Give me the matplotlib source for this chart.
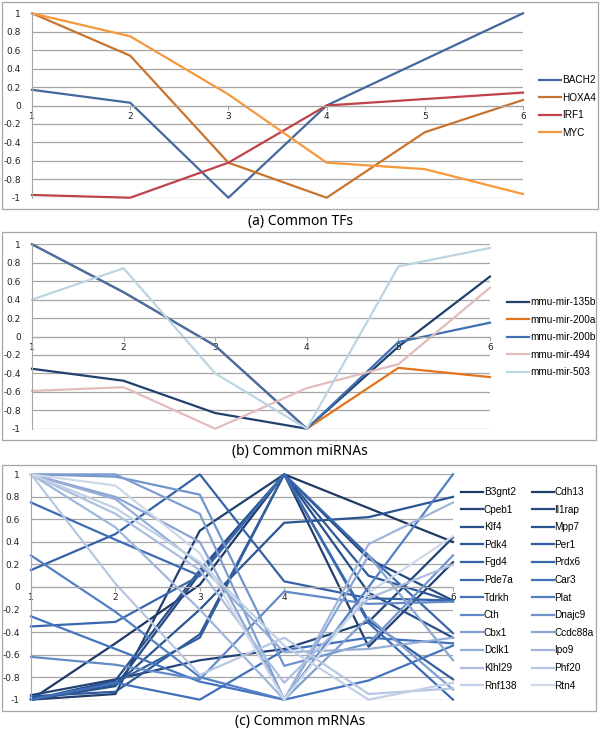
import matplotlib
matplotlib.use("Agg")
import matplotlib.pyplot as plt
from matplotlib.patches import Rectangle
import numpy as np

# x positions shared by all three panels
steps = [1, 2, 3, 4, 5, 6]

# (a) Common TFs
tf_names = ["BACH2", "HOXA4", "IRF1", "MYC"]
BACH2 = [0.17, 0.03, -1.0, 0.0, 0.5, 1.0]
HOXA4 = [1.0, 0.54, -0.62, -1.0, -0.29, 0.06]
IRF1 = [-0.97, -1.0, -0.62, 0.0, 0.07, 0.14]
MYC = [1.0, 0.75, 0.12, -0.62, -0.69, -0.96]
tf_colors = ["#44689e", "#c8742e", "#c0424a", "#f5993c"]

# (b) Common miRNAs
mir_names = ["mmu-mir-135b", "mmu-mir-200a", "mmu-mir-200b", "mmu-mir-494", "mmu-mir-503"]
mir_135b = [-0.35, -0.48, -0.83, -1.0, -0.11, 0.65]
mir_200a = [1.0, 0.48, -0.1, -1.0, -0.34, -0.44]
mir_200b = [1.0, 0.48, -0.1, -1.0, -0.06, 0.15]
mir_494 = [-0.59, -0.55, -1.0, -0.56, -0.3, 0.53]
mir_503 = [0.4, 0.74, -0.4, -1.0, 0.76, 0.96]
mir_colors = ["#20406e", "#e5731c", "#3f70b0", "#e3bcbc", "#bcd5e2"]

# (c) Common mRNAs (legend is row-major, two columns)
mrna_names = ["B3gnt2", "Cdh13", "Cpeb1", "Il1rap", "Klf4", "Mpp7",
              "Pdk4", "Per1", "Fgd4", "Prdx6", "Pde7a", "Car3",
              "Tdrkh", "Plat", "Cth", "Dnajc9", "Cbx1", "Ccdc88a",
              "Dclk1", "Ipo9", "Klhl29", "Phf20", "Rnf138", "Rtn4"]
mrna_values = [
    [-1.0, -0.5, 0.02, 1.0, 0.7, 0.4],
    [-1.0, -0.95, 0.5, 1.0, -0.53, 0.22],
    [-0.96, -0.82, -0.65, -0.55, -0.31, 0.44],
    [-1.0, -0.88, 0.12, 1.0, 0.25, -0.12],
    [-1.0, -0.83, 0.15, 1.0, -0.05, -0.45],
    [-1.0, -0.87, -0.2, 0.57, 0.62, 0.8],
    [-0.97, -0.93, -0.42, 1.0, 0.1, -0.13],
    [-1.0, -0.85, -0.45, 1.0, -0.3, -0.82],
    [0.15, 0.47, 1.0, 0.05, -0.1, -0.12],
    [-0.35, -0.31, 0.1, 1.0, 0.28, -0.41],
    [0.75, 0.42, 0.1, 1.0, -0.32, -1.0],
    [-1.0, -0.85, -1.0, -0.56, -0.45, -0.5],
    [-0.26, -0.55, -0.84, -1.0, -0.83, -0.52],
    [0.28, -0.22, -0.8, -1.0, 0.0, 1.0],
    [-0.62, -0.69, -0.82, -0.04, -0.15, -0.13],
    [1.0, 0.98, 0.82, -0.7, -0.5, 0.28],
    [1.0, 1.0, 0.65, -1.0, -0.27, -0.91],
    [1.0, 0.8, 0.4, -1.0, 0.28, -0.65],
    [1.0, 0.78, 0.2, -0.58, -0.55, -0.45],
    [1.0, 0.53, -0.2, -1.0, 0.38, 0.75],
    [1.0, 0.65, 0.15, -0.85, -0.1, 0.2],
    [1.0, 0.03, -0.78, -0.45, -0.95, -0.9],
    [1.0, 0.7, 0.22, -0.52, -1.0, -0.85],
    [1.0, 0.9, 0.3, -1.0, -0.05, 0.45],
]
# colour ramp anchors for the mRNA series (index in series order -> colour)
ramp_pos = [0, 5, 12, 16, 23]
ramp_hex = ["#1f3864", "#2a5592", "#4474c0", "#7f9ed0", "#cdd8ea"]

yticks = [-1, -0.8, -0.6, -0.4, -0.2, 0, 0.2, 0.4, 0.6, 0.8, 1]
ytick_labels = ["-1", "-0.8", "-0.6", "-0.4", "-0.2", "0", "0.2", "0.4", "0.6", "0.8", "1"]

W, H = 600, 736
fig = plt.figure(figsize=(W / 100, H / 100), dpi=100)
plt.rcParams['font.family'] = ['DejaVu Sans']


def px_axes(x0, y0, x1, y1):
    # pixel box (top-left origin) -> figure axes
    return fig.add_axes([x0 / W, 1 - y1 / H, (x1 - x0) / W, (y1 - y0) / H])


def border(x0, y0, x1, y1):
    fig.patches.append(Rectangle((x0 / W, 1 - y1 / H), (x1 - x0) / W, (y1 - y0) / H,
                                 transform=fig.transFigure, fill=False,
                                 edgecolor="#a6a6a6", linewidth=0.9))


def style(ax):
    ax.set_xlim(1, 6)
    ax.set_ylim(-1.003, 1.003)
    ax.set_yticks(yticks)
    ax.set_yticklabels(ytick_labels)
    ax.set_xticks(steps)
    ax.set_xticklabels([str(s) for s in steps])
    ax.grid(axis="y", color="#a6a6a6", linewidth=0.9)
    ax.set_axisbelow(True)
    for s in ["top", "right"]:
        ax.spines[s].set_visible(False)
    ax.spines["bottom"].set_position(("data", 0))
    ax.spines["bottom"].set_color("#a6a6a6")
    ax.spines["left"].set_color("#a6a6a6")
    ax.tick_params(axis="y", length=0, pad=8, labelsize=6.5, labelcolor="#222222")
    ax.tick_params(axis="x", length=3, color="#a6a6a6", pad=1.5, labelsize=6.5,
                   labelcolor="#222222")
    ax.set_facecolor("none")


def hex_rgb(h):
    return np.array([int(h[i:i + 2], 16) for i in (1, 3, 5)]) / 255


leg_kw = dict(loc="upper left", frameon=False, handlelength=2.2,
              prop={"family": "Liberation Sans", "size": 7.2},
              handletextpad=0.1, labelspacing=0.76, borderaxespad=0, borderpad=0)

# ---- panel (a)
border(2, 2, 598, 209)
ax1 = px_axes(32, 13, 523, 198)
lines = []
for vals, name, c in zip([BACH2, HOXA4, IRF1, MYC], tf_names, tf_colors):
    ln, = ax1.plot(steps, vals, color=c, lw=1.6, label=name, clip_on=False)
    lines.append(ln)
style(ax1)
fig.legend(handles=lines, bbox_to_anchor=(539 / W, 1 - 75 / H), **leg_kw)
fig.text(0.5, 1 - 222 / H, "(a) Common TFs", ha="center", va="center",
         fontsize=10, family="Noto Sans")

# ---- panel (b)
border(2, 232, 596, 440)
ax2 = px_axes(32, 244, 490, 429)
lines = []
for vals, name, c in zip([mir_135b, mir_200a, mir_200b, mir_494, mir_503], mir_names, mir_colors):
    ln, = ax2.plot(steps, vals, color=c, lw=1.6, label=name, clip_on=False)
    lines.append(ln)
style(ax2)
fig.legend(handles=lines, bbox_to_anchor=(507 / W, 1 - 297 / H), **leg_kw)
fig.text(0.5, 1 - 452 / H, "(b) Common miRNAs", ha="center", va="center",
         fontsize=10, family="Noto Sans")

# ---- panel (c)
border(2, 465, 596, 711)
ax3 = px_axes(31, 474, 453, 700)
ramp = np.array([hex_rgb(h) for h in ramp_hex])
lines = []
n = len(mrna_names)
for i, (vals, name) in enumerate(zip(mrna_values, mrna_names)):
    c = [np.interp(i, ramp_pos, ramp[:, k]) for k in range(3)]
    ln, = ax3.plot(steps, vals, color=c, lw=1.6, label=name, clip_on=False)
    lines.append(ln)
style(ax3)
# reorder so matplotlib's column-wise fill gives a row-major legend
order = list(range(0, n, 2)) + list(range(1, n, 2))
fig.legend(handles=[lines[k] for k in order], bbox_to_anchor=(461 / W, 1 - 487 / H),
           ncol=2, columnspacing=1.5, **leg_kw)
fig.text(0.5, 1 - 722 / H, "(c) Common mRNAs", ha="center", va="center",
         fontsize=10, family="Noto Sans")

fig.savefig("out.png", dpi=100, facecolor="white")
